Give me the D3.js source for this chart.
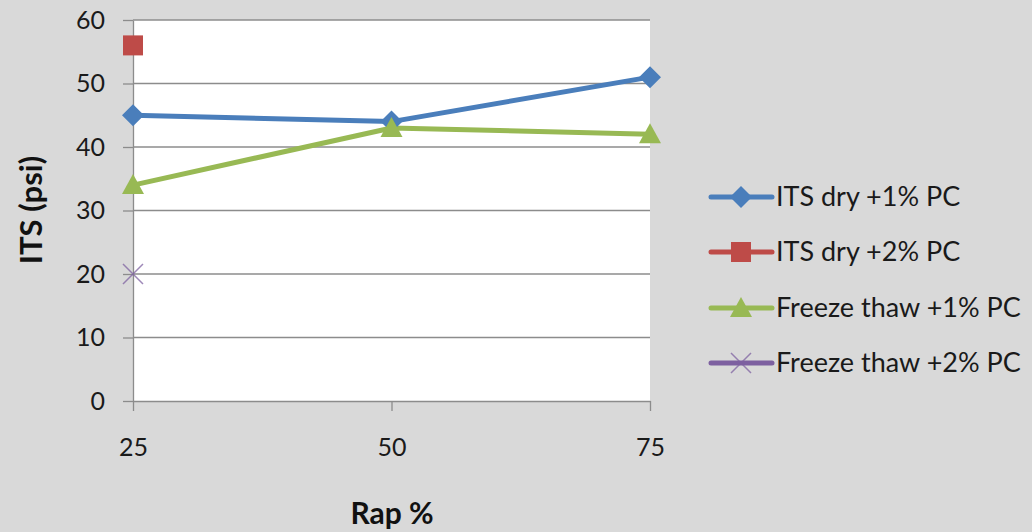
<!DOCTYPE html>
<html>
<head>
<meta charset="utf-8">
<script src="https://cdn.jsdelivr.net/npm/d3@7"></script>
<style>
  html, body { margin: 0; padding: 0; background: #d9d9d9; }
  svg { display: block; }
</style>
</head>
<body>
<svg id="chart" width="1032" height="532"></svg>
<script>
// RAP content (%) on the x axis
const rapPct = [25, 50, 75];
const yTicks = [0, 10, 20, 30, 40, 50, 60];

// ITS (psi) per series; null = not tested
const itsDry1 = [45, 44, 51];
const itsDry2 = [56, null, null];
const freezeThaw1 = [34, 43, 42];
const freezeThaw2 = [20, null, null];

const seriesNames = ["ITS dry +1% PC", "ITS dry +2% PC", "Freeze thaw +1% PC", "Freeze thaw +2% PC"];
const seriesColors = ["#4a7ebb", "#be4b48", "#98b954", "#7d60a0"];
const seriesSymbols = ["diamond", "square", "triangle", "cross"];
const seriesValues = [itsDry1, itsDry2, freezeThaw1, freezeThaw2];

const svg = d3.select("#chart");
const font = "Lato, 'Open Sans', sans-serif";

const x = d3.scaleLinear().domain([25, 75]).range([133, 650]);
const y = d3.scaleLinear().domain([0, 60]).range([401, 20]);

// plot area
svg.append("rect")
  .attr("x", x(25)).attr("y", y(60))
  .attr("width", x(75) - x(25)).attr("height", y(0) - y(60))
  .attr("fill", "#ffffff");

// horizontal gridlines
svg.append("g").selectAll("line").data(yTicks.filter(d => d > 0)).join("line")
  .attr("x1", x(25)).attr("x2", x(75))
  .attr("y1", d => y(d)).attr("y2", d => y(d))
  .attr("stroke", "#8c8c8c").attr("stroke-width", 1.3);

// y axis
const yAxis = svg.append("g")
  .attr("transform", `translate(${x(25)},0)`)
  .call(d3.axisLeft(y).tickValues(yTicks).tickSize(10).tickPadding(18).tickSizeOuter(0));
yAxis.select(".domain").attr("stroke", "#8c8c8c").attr("stroke-width", 1.3);
yAxis.selectAll(".tick line").attr("stroke", "#8c8c8c").attr("stroke-width", 1.3);
yAxis.selectAll(".tick text")
  .attr("font-family", font).attr("font-size", 25).attr("fill", "#1a1a1a");

// x axis
const xAxis = svg.append("g")
  .attr("transform", `translate(0,${y(0)})`)
  .call(d3.axisBottom(x).tickValues(rapPct).tickSize(10).tickPadding(27).tickSizeOuter(0));
xAxis.select(".domain").attr("stroke", "#8c8c8c").attr("stroke-width", 1.3);
xAxis.selectAll(".tick line").attr("stroke", "#8c8c8c").attr("stroke-width", 1.3);
xAxis.selectAll(".tick text")
  .attr("font-family", font).attr("font-size", 25).attr("fill", "#1a1a1a");

// axis titles
svg.append("text")
  .attr("x", 392).attr("y", 524)
  .attr("text-anchor", "middle")
  .attr("font-family", font).attr("font-weight", "bold").attr("font-size", 30)
  .attr("fill", "#111").text("Rap %");

svg.append("text")
  .attr("transform", "translate(42,210) rotate(-90)")
  .attr("text-anchor", "middle")
  .attr("font-family", font).attr("font-weight", "bold").attr("font-size", 31)
  .attr("fill", "#111").text("ITS (psi)");

// marker shapes
function marker(g, kind, color, s) {
  if (kind === "diamond") {
    g.append("path").attr("d", `M0,${-s / 2}L${s / 2},0L0,${s / 2}L${-s / 2},0Z`).attr("fill", color);
  } else if (kind === "square") {
    g.append("rect").attr("x", -s / 2 + 1).attr("y", -s / 2 + 1).attr("width", s - 2).attr("height", s - 2).attr("fill", color);
  } else if (kind === "triangle") {
    g.append("path").attr("d", `M0,${-s / 2}L${s / 2},${s / 2 - 2}L${-s / 2},${s / 2 - 2}Z`).attr("fill", color);
  } else if (kind === "cross") {
    const h = s / 2 - 1;
    g.append("path").attr("d", `M${-h},${-h}L${h},${h}M${-h},${h}L${h},${-h}`)
      .attr("stroke", color).attr("stroke-width", 1.5).attr("fill", "none").attr("opacity", 0.75);
  }
}

// series lines and markers
const line = d3.line()
  .defined(d => d[1] != null)
  .x(d => x(d[0])).y(d => y(d[1]));

seriesValues.forEach((vals, i) => {
  const pts = rapPct.map((r, j) => [r, vals[j]]);
  svg.append("path").datum(pts)
    .attr("d", line)
    .attr("fill", "none")
    .attr("stroke", seriesColors[i])
    .attr("stroke-width", 5)
    .attr("stroke-linejoin", "round");
});
seriesValues.forEach((vals, i) => {
  rapPct.forEach((r, j) => {
    if (vals[j] == null) return;
    const g = svg.append("g").attr("transform", `translate(${x(r)},${y(vals[j])})`);
    marker(g, seriesSymbols[i], seriesColors[i], 22);
  });
});

// legend
const legendRows = [197, 252, 308, 363];
seriesNames.forEach((name, i) => {
  const g = svg.append("g").attr("transform", `translate(0,${legendRows[i]})`);
  g.append("line").attr("x1", 711).attr("x2", 772).attr("y1", 0).attr("y2", 0)
    .attr("stroke", seriesColors[i]).attr("stroke-width", 5).attr("stroke-linecap", "round");
  const m = g.append("g").attr("transform", "translate(741,0)");
  marker(m, seriesSymbols[i], seriesColors[i], 22);
  g.append("text").attr("x", 776).attr("y", 0).attr("dy", "0.35em")
    .attr("font-family", font).attr("font-size", 27).attr("fill", "#1a1a1a")
    .text(name);
});
</script>
</body>
</html>
